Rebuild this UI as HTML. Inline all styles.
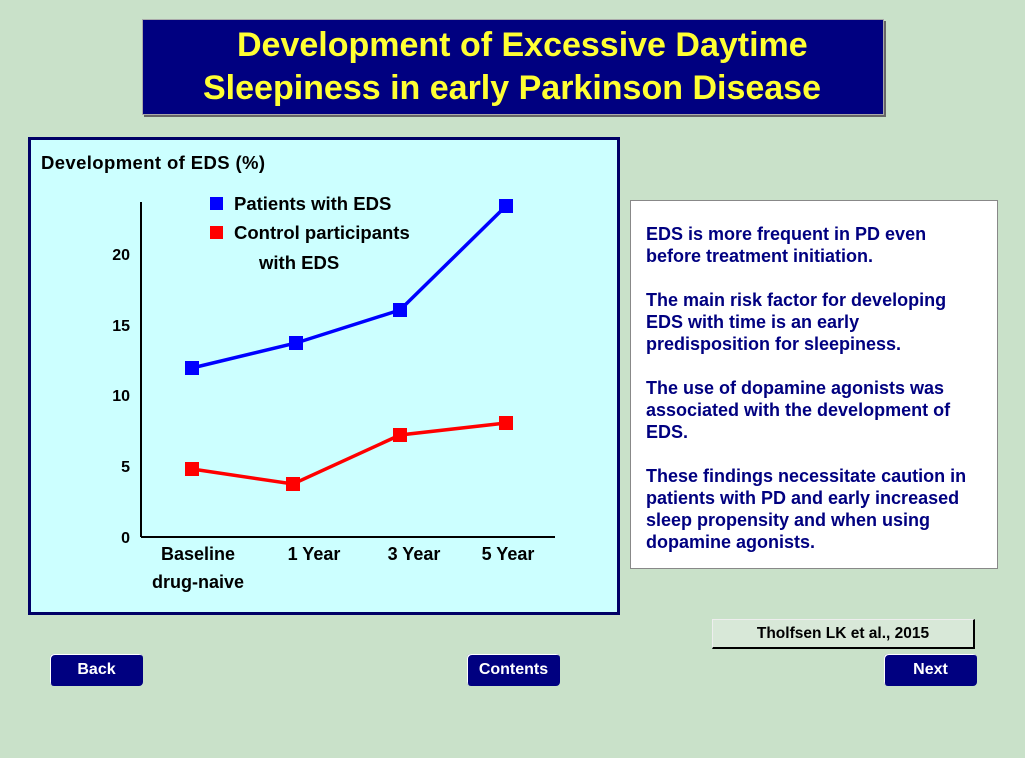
<!DOCTYPE html>
<html><head><style>
body{margin:0;width:1025px;height:758px;background:#c9e1c9;font-family:"Liberation Sans",sans-serif;font-weight:bold;position:relative;overflow:hidden}
.abs{position:absolute}
.title{left:142px;top:19px;width:740px;height:94px;background:#000080;border:1px solid #aaa;box-shadow:2px 2px 0 #666;color:#ffff33;font-size:34px;line-height:43px}
.panel{left:28px;top:137px;width:586px;height:472px;background:#ccffff;border:3px solid #000066}
.text{left:630px;top:200px;width:348px;height:336px;background:#fff;border:1px solid #888;padding:22px 9px 9px 9px;color:#000080;font-size:18px;line-height:22px}
.text p{margin:0 0 22px 6px;width:330px}
.btn{background:#000080;color:#fff;font-size:16px;text-align:center;border-radius:4px;height:32px;line-height:32px;box-shadow:1px 1px 0 #fff inset}
</style></head><body>
<div class="abs title"><div style="position:absolute;left:94px;top:4px">Development of Excessive Daytime</div><div style="position:absolute;left:60px;top:47px">Sleepiness in early Parkinson Disease</div></div>
<div class="abs panel"></div>
<svg class="abs" style="left:0;top:0" width="1025" height="758" font-family="Liberation Sans" font-weight="bold">
<text x="41" y="169" font-size="18.5" textLength="224">Development of EDS (%)</text>
<line x1="141" y1="202" x2="141" y2="537" stroke="#000" stroke-width="2"/>
<line x1="141" y1="537" x2="555" y2="537" stroke="#000" stroke-width="2"/>
<g font-size="16" text-anchor="end"><text x="130" y="260">20</text><text x="130" y="331">15</text><text x="130" y="401">10</text><text x="130" y="472">5</text><text x="130" y="543">0</text></g>
<g font-size="18" text-anchor="middle"><text x="198" y="560">Baseline</text><text x="198" y="588">drug-naive</text><text x="314" y="560">1 Year</text><text x="414" y="560">3 Year</text><text x="508" y="560">5 Year</text></g>
<rect x="210" y="197" width="13" height="13" fill="#0000ff"/><text x="234" y="210" font-size="18.5">Patients with EDS</text>
<rect x="210" y="226" width="13" height="13" fill="#ff0000"/><text x="234" y="239" font-size="18.5">Control participants</text><text x="259" y="269" font-size="18.5">with EDS</text>
<polyline points="192,368 296,343 400,310 506,206" fill="none" stroke="#0000ff" stroke-width="3.5"/>
<g fill="#0000ff"><rect x="185" y="361" width="14" height="14"/><rect x="289" y="336" width="14" height="14"/><rect x="393" y="303" width="14" height="14"/><rect x="499" y="199" width="14" height="14"/></g>
<polyline points="192,469 293,484 400,435 506,423" fill="none" stroke="#ff0000" stroke-width="3.5"/>
<g fill="#ff0000"><rect x="185" y="462" width="14" height="14"/><rect x="286" y="477" width="14" height="14"/><rect x="393" y="428" width="14" height="14"/><rect x="499" y="416" width="14" height="14"/></g>
</svg>
<div class="abs text"><p>EDS is more frequent in PD even before treatment initiation.</p><p>The main risk factor for developing EDS with time is an early predisposition for sleepiness.</p><p>The use of dopamine agonists was associated with the development of EDS.</p><p>These findings necessitate caution in patients with PD and early increased sleep propensity and when using dopamine agonists.</p></div>
<div class="abs" style="left:712px;top:619px;width:260px;height:27px;background:#d8e8d8;border:1px solid #eee;border-right:2px solid #000;border-bottom:2px solid #000;font-size:15.5px;text-align:center;line-height:27px">Tholfsen LK et al., 2015</div>
<div class="abs btn" style="left:50px;top:654px;width:93px">Back</div>
<div class="abs btn" style="left:467px;top:654px;width:93px">Contents</div>
<div class="abs btn" style="left:884px;top:654px;width:93px">Next</div>
</body></html>
